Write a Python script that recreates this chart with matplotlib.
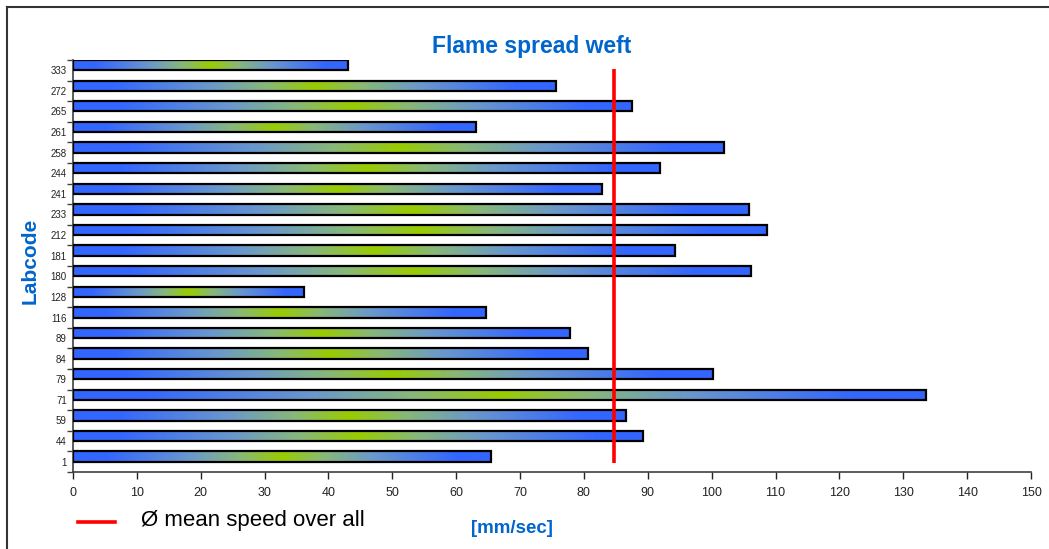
import numpy as np
import matplotlib.pyplot as plt
from matplotlib.colors import LinearSegmentedColormap
from matplotlib.lines import Line2D

plt.rcParams['font.family'] = ['Liberation Sans', 'DejaVu Sans']

# lab codes, bottom to top
labcodes = ['1', '44', '59', '71', '79', '84', '89', '116', '128', '180',
            '181', '212', '233', '241', '244', '258', '261', '265', '272', '333']
# flame spread speed in mm/sec
speeds = [65.4, 89.3, 86.6, 133.6, 100.2, 80.6, 77.8, 64.7, 36.2, 106.2,
          94.2, 108.6, 105.8, 82.8, 91.9, 102.0, 63.1, 87.5, 75.7, 43.0]

mean_speed = np.mean(speeds)

blue = '#3366FF'
green = '#99CC00'
title_blue = '#0066CC'
# blue at both ends, green in the middle of each bar
stops = [(0.0, blue), (0.08, blue), (0.28, '#6A98CC'), (0.40, '#88B878'),
         (0.5, green), (0.60, '#88B878'), (0.72, '#6A98CC'), (0.92, blue),
         (1.0, blue)]
cmap = LinearSegmentedColormap.from_list('bg', stops)

fig = plt.figure(figsize=(10.49, 5.49), dpi=100)
ax = fig.add_axes([73/1049, 77/549, 958/1049, 412/549])

grad = np.linspace(0, 1, 512).reshape(1, -1)
pos = np.arange(len(labcodes))
for i, v in zip(pos, speeds):
    # bar sits in upper half of its category slot
    ax.imshow(grad, cmap=cmap, aspect='auto', extent=[0, v, i, i + 0.5],
              interpolation='bilinear', zorder=2)
    ax.barh(i + 0.25, v, height=0.5, facecolor='none', edgecolor='black',
            linewidth=1.6, zorder=3)

ax.plot([mean_speed, mean_speed], [-0.07, 19.07], color='#FF0000',
        linewidth=2.6, zorder=4, solid_capstyle='butt')

ax.set_xlim(0, 150)
ax.set_ylim(-0.5, len(labcodes) - 0.5)
ax.set_xticks(np.arange(0, 151, 10))
ax.tick_params(axis='x', labelsize=9, colors='#222222', length=5, width=1, pad=6)
ax.set_yticks(pos)
ax.set_yticklabels(labcodes)
ax.set_yticks(np.arange(-0.5, len(labcodes), 1), minor=True)
ax.tick_params(axis='y', which='major', length=0, labelsize=7, pad=4.5, colors='#222222')
ax.tick_params(axis='y', which='minor', length=4, width=1, color='#404040')

for side in ['top', 'right']:
    ax.spines[side].set_visible(False)
for side in ['left', 'bottom']:
    ax.spines[side].set_color('#404040')
    ax.spines[side].set_linewidth(1.2)

fig.text(532/1049, 1 - 53/549, 'Flame spread weft', color=title_blue,
         fontsize=16.5, fontweight='bold', ha='center', va='baseline')
fig.text(30/1049, 1 - 261/549, 'Labcode', color=title_blue, fontsize=15,
         fontweight='bold', rotation=90, ha='center', va='center')
fig.text(512/1049, 1 - 533/549, '[mm/sec]', color=title_blue, fontsize=13.5,
         fontweight='bold', ha='center', va='baseline')

# legend entry for the mean line
fig.add_artist(Line2D([78/1049, 115/1049], [1 - 521.5/549, 1 - 521.5/549],
                      color='#FF0000', linewidth=2.6))
fig.text(141/1049, 1 - 526/549, 'Ø mean speed over all', fontsize=16,
         color='black', ha='left', va='baseline')

# outer frame
fig.add_artist(Line2D([7/1049, 7/1049], [0, 1 - 7/549], color='#333333', linewidth=1.5))
fig.add_artist(Line2D([7/1049, 1], [1 - 7/549, 1 - 7/549], color='#333333', linewidth=1.5))

fig.savefig('out.png', dpi=100)
